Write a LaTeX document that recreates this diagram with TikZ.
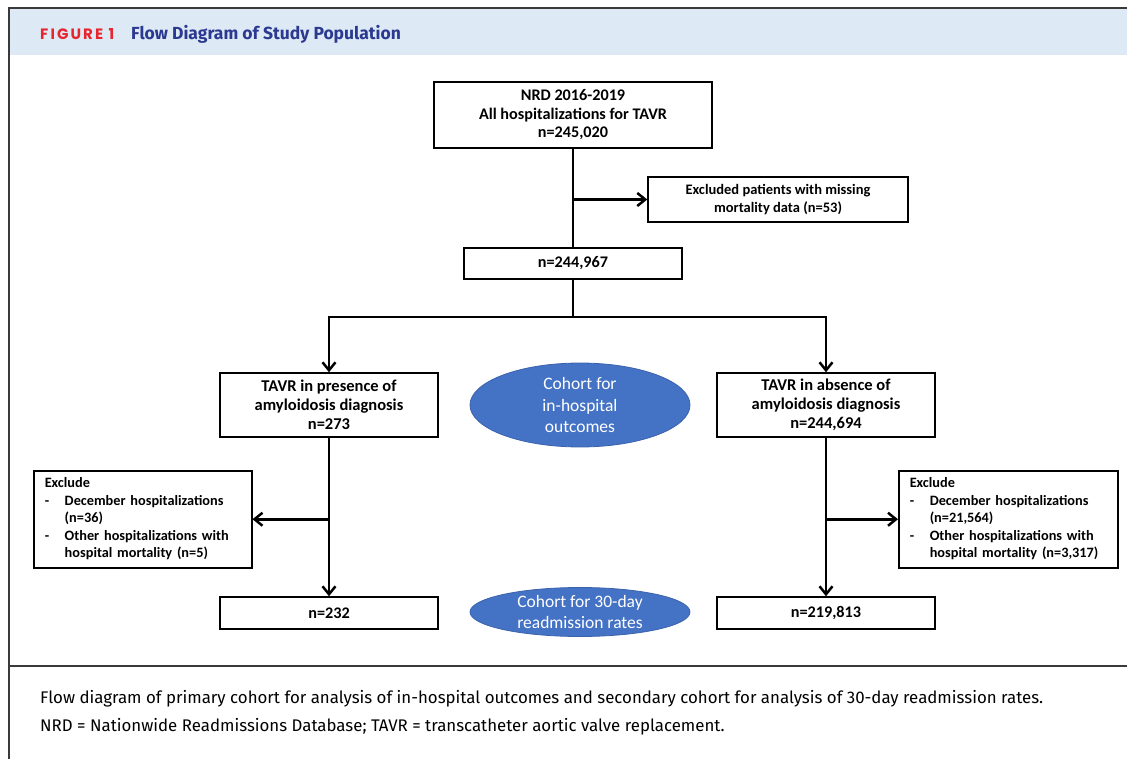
\documentclass[tikz,border=0pt]{standalone}
\usepackage{fontspec}
\setmainfont{Carlito}
\newfontfamily\capfont{Fira Sans}
\newfontfamily\headfont{Fira Sans}
\newfontfamily\figfont{Poppins}
\usetikzlibrary{shapes.geometric,arrows.meta}
\definecolor{headbg}{HTML}{DDE9F5}
\definecolor{framec}{HTML}{3A3A3A}
\definecolor{figred}{HTML}{E8242D}
\definecolor{figblue}{HTML}{2B3990}
\definecolor{ellfill}{HTML}{4472C4}
\definecolor{elldraw}{HTML}{3B63AD}
\begin{document}
\begin{tikzpicture}[x=1pt,y=-1pt,
  box/.style={draw=black,line width=1.5pt,inner sep=0pt,align=center,
    font=\fontsize{16.2}{18.5}\selectfont\bfseries},
  exbox/.style={draw=black,line width=1.5pt,inner xsep=11pt,inner ysep=0pt,
    text width=196pt,minimum height=97pt,anchor=north west,align=left,
    font=\fontsize{14.3}{17.6}\selectfont\bfseries},
  cohort/.style={ellipse,draw=elldraw,line width=0.8pt,fill=ellfill,text=white,
    inner sep=0pt,align=center,font=\fontsize{17.5}{21.5}\selectfont},
  conn/.style={line width=2.7pt,draw=black},
  arr/.style={conn,-{Straight Barb[length=8pt,width=13pt,line width=2.5pt]}}
]
\useasboundingbox (0,0) rectangle (1127,759);
% frame and header
\fill[headbg] (9,8) rectangle (1127,55);
\draw[framec,line width=1.6pt] (1127,8) -- (9,8) -- (9,759);
\draw[framec,line width=1.6pt] (9,666) -- (1127,666);
\node[anchor=base west,inner sep=0pt,text=figred,font=\figfont\fontsize{15}{16}\selectfont\bfseries\addfontfeatures{LetterSpace=14}] (figlab) at (40,39.5) {FIGURE 1};
\node[anchor=base west,inner sep=0pt,text=figblue,font=\headfont\fontsize{17.5}{20}\selectfont\bfseries] (figtitle) at (131,39.5) {Flow Diagram of Study Population};

% boxes
\node[box,minimum width=278pt,minimum height=66pt] (top) at (573,115)
  {NRD 2016-2019\\All hospitalizations for TAVR\\n=245,020};
\node[box,minimum width=260pt,minimum height=45pt,font=\fontsize{14.5}{18}\selectfont\bfseries] (excl) at (778,199.5)
  {Excluded patients with missing\\mortality data (n=53)};
\node[box,minimum width=218pt,minimum height=31pt] (n2) at (573,263.5) {n=244,967};
\node[box,minimum width=218pt,minimum height=64pt,font=\fontsize{16.5}{18.8}\selectfont\bfseries] (left) at (329,405)
  {TAVR in presence of\\amyloidosis diagnosis\\n=273};
\node[box,minimum width=218pt,minimum height=64pt,font=\fontsize{16.5}{18.8}\selectfont\bfseries] (right) at (826,405)
  {TAVR in absence of\\amyloidosis diagnosis\\n=244,694};
\node[box,minimum width=218pt,minimum height=32pt] (l2) at (329,613) {n=232};
\node[box,minimum width=218pt,minimum height=32pt] (r2) at (826,613) {n=219,813};
\node[exbox] (lex) at (33,470)
  {\begin{tabular}{@{}p{20pt}@{}l@{}}\multicolumn{2}{@{}l@{}}{Exclude}\\
   -& December hospitalizations\\ & (n=36)\\
   -& Other hospitalizations with\\ & hospital mortality (n=5)\end{tabular}};
\node[exbox,text width=197pt] (rex) at (898,470)
  {\begin{tabular}{@{}p{20pt}@{}l@{}}\multicolumn{2}{@{}l@{}}{Exclude}\\
   -& December hospitalizations\\ & (n=21,564)\\
   -& Other hospitalizations with\\ & hospital mortality (n=3,317)\end{tabular}};

% cohort ellipses
\node[cohort,minimum width=220pt,minimum height=84pt] (c1) at (580,405)
  {Cohort for\\in-hospital\\outcomes};
\node[cohort,minimum width=220pt,minimum height=49pt] (c2) at (580,612)
  {Cohort for 30-day\\readmission rates};

% connectors
\draw[conn] (top.south) -- (n2.north);
\draw[arr] (top.south |- excl.west) -- (excl.west);
\coordinate (split) at (573,317);
\draw[conn] (n2.south) -- (split);
\draw[arr] (split) -| (left.north);
\draw[arr] (split) -| (right.north);
\draw[arr] (left.south) -- (l2.north);
\draw[arr] (left.south |- lex.east) -- (lex.east);
\draw[arr] (right.south) -- (r2.north);
\draw[arr] (right.south |- rex.west) -- (rex.west);

% caption
\node[anchor=base west,inner sep=0pt,font=\capfont\fontsize{16.85}{20}\selectfont] (cap1) at (40,703)
  {Flow diagram of primary cohort for analysis of in-hospital outcomes and secondary cohort for analysis of 30-day readmission rates.};
\node[anchor=base west,inner sep=0pt,font=\capfont\fontsize{16.85}{20}\selectfont] (cap2) at (40,731)
  {NRD = Nationwide Readmissions Database; TAVR = transcatheter aortic valve replacement.};
\end{tikzpicture}
\end{document}
